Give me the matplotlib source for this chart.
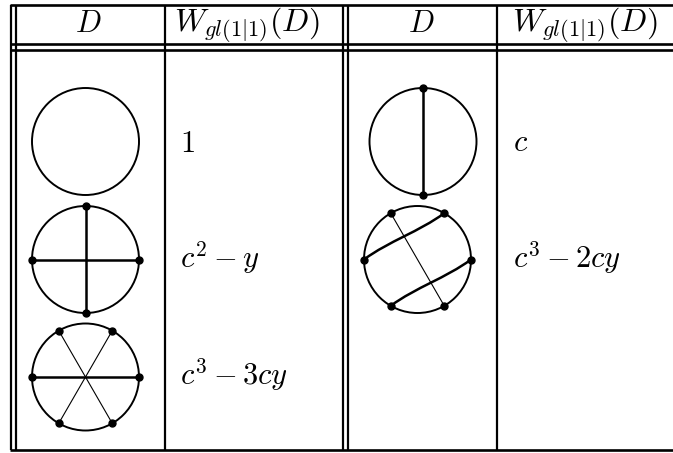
import numpy as np
import matplotlib
matplotlib.use("Agg")
import matplotlib.pyplot as plt
from matplotlib.path import Path
from matplotlib.patches import PathPatch, Circle

plt.rcParams['mathtext.fontset'] = 'cm'

# ---- data ----
headers = ["$D$", "$W_{gl(1|1)}(D)$"]
left_weights = ["$1$", "$c^2 - y$", "$c^3 - 3cy$"]
right_weights = ["$c$", "$c^3 - 2cy$"]
# chords given as (angle_start, angle_end, style) in degrees
left_diagrams = [
    [],
    [(90, 270, "thick"), (180, 0, "thick")],
    [(180, 0, "thick"), (120, 300, "thin"), (60, 240, "thin")],
]
right_diagrams = [
    [(90, 270, "thick")],
    [(120, 300, "thin"), (180, 60, "curve"), (240, 0, "curve")],
]

W, H = 673, 453
fig = plt.figure(figsize=(W / 100, H / 100), dpi=100)
ax = fig.add_axes([0, 0, 1, 1])
ax.set_xlim(0, W)
ax.set_ylim(H, 0)
ax.axis("off")

LW = 1.6
# table lines
for y in [5, 44, 50, 450]:
    ax.plot([10, W], [y, y], color="black", lw=LW + 0.3, solid_capstyle="butt")
for x in [11, 15.5, 165, 343, 348, 497]:
    ax.plot([x, x], [5, 450], color="black", lw=LW, solid_capstyle="butt")

FS = 22
# headers
for cx0, cx1 in [(88.5, 247), (421, 585)]:
    ax.text(cx0, 32, headers[0], fontsize=FS, ha="center", va="baseline")
    ax.text(cx1, 32, headers[1], fontsize=FS + 1, ha="center", va="baseline")

R = 53.5
left_centers = [(85.5, 141.5), (85.5, 259.5), (85.5, 377)]
right_centers = [(423, 141.5), (417.5, 259.5)]
left_baselines = [152, 268, 385]
right_baselines = [151, 268]


def pt(c, a):
    t = np.deg2rad(a)
    return (c[0] + R * np.round(np.cos(t), 9), c[1] - R * np.round(np.sin(t), 9))


def draw_diagram(c, chords):
    ax.add_patch(Circle(c, R, fill=False, lw=1.4, color="black"))
    for a0, a1, style in chords:
        p0, p1 = pt(c, a0), pt(c, a1)
        if style == "curve":
            d = np.array(p1) - np.array(p0)
            n = np.array([d[1], -d[0]]) / np.hypot(*d)
            q0 = np.array(p0) + d / 3 + n * 3.5
            q1 = np.array(p0) + 2 * d / 3 - n * 3.5
            path = Path([p0, tuple(q0), tuple(q1), p1],
                        [Path.MOVETO, Path.CURVE4, Path.CURVE4, Path.CURVE4])
            ax.add_patch(PathPatch(path, fill=False, lw=1.8, color="black"))
        else:
            ax.plot([p0[0], p1[0]], [p0[1], p1[1]], color="black",
                    lw=1.8 if style == "thick" else 0.8)
        ax.plot([p0[0], p1[0]], [p0[1], p1[1]], "o", color="black",
                ms=5, lw=0)


for c, ch, wt, b in zip(left_centers, left_diagrams, left_weights, left_baselines):
    draw_diagram(c, ch)
    ax.text(180, b, wt, fontsize=FS, ha="left", va="baseline")
for c, ch, wt, b in zip(right_centers, right_diagrams, right_weights, right_baselines):
    draw_diagram(c, ch)
    ax.text(513, b, wt, fontsize=FS, ha="left", va="baseline")

fig.savefig("out.png", dpi=100)
